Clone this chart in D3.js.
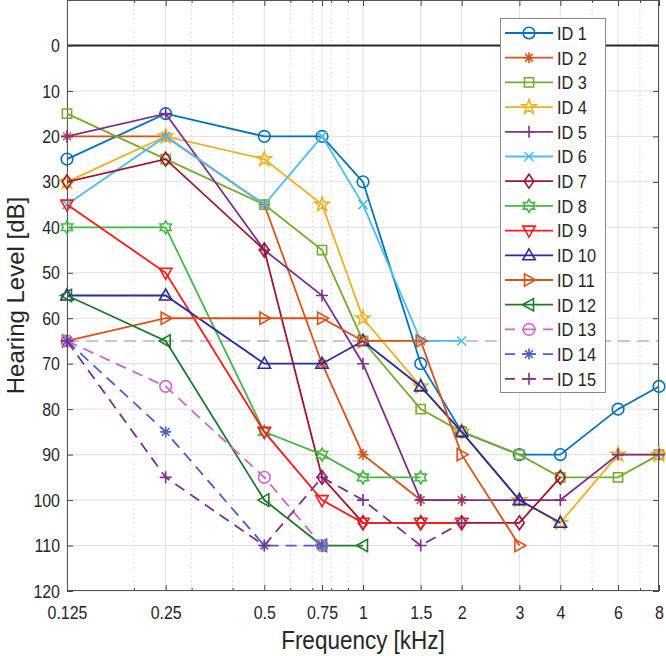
<!DOCTYPE html>
<html><head><meta charset="utf-8">
<script src="https://cdn.jsdelivr.net/npm/d3@7"></script>
<style>body{margin:0;background:#fff}svg{display:block}text{font-family:"Liberation Sans",Arial,Helvetica,sans-serif;fill:#262626}</style>
</head><body>
<svg id="c" width="666" height="656"></svg>
<script>
// ---- data ----
const freqs = [0.125, 0.25, 0.5, 0.75, 1, 1.5, 2, 3, 4, 6, 8];
const freqLabels = ["0.125", "0.25", "0.5", "0.75", "1", "1.5", "2", "3", "4", "6", "8"];
const minorFreqs = [0.2, 0.3, 0.4, 0.6, 0.7, 0.8, 0.9, 5, 7];
const yTicks = [0, 10, 20, 30, 40, 50, 60, 70, 80, 90, 100, 110, 120];
const seriesNames = ["ID 1","ID 2","ID 3","ID 4","ID 5","ID 6","ID 7","ID 8","ID 9","ID 10","ID 11","ID 12","ID 13","ID 14","ID 15"];
const id1  = [25, 15, 20, 20, 30, 70, 85, 90, 90, 80, 75];
const id2  = [20, 20, 35, 70, 90, 100, 100, null, null, null, null];
const id3  = [15, 25, 35, 45, 65, 80, 85, 90, 95, 95, 90];
const id4  = [30, 20, 25, 35, 60, 75, 85, 100, 105, 90, 90];
const id5  = [20, 15, 45, 55, 70, 100, 100, 100, 100, 90, 90];
const id6  = [35, 20, 35, 20, 35, 65, 65, null, null, null, null];
const id7  = [30, 25, 45, 95, 105, 105, 105, 105, 95, null, null];
const id8  = [40, 40, 85, 90, 95, 95, null, null, null, null, null];
const id9  = [35, 50, 85, 100, 105, 105, 105, null, null, null, null];
const id10 = [55, 55, 70, 70, 65, 75, 85, 100, 105, null, null];
const id11 = [65, 60, 60, 60, 65, 65, 90, 110, null, null, null];
const id12 = [55, 65, 100, 110, 110, null, null, null, null, null, null];
const id13 = [65, 75, 95, 110, null, null, null, null, null, null, null];
const id14 = [65, 85, 110, 110, null, null, null, null, null, null, null];
const id15 = [65, 95, 110, 95, 100, 110, 105, null, null, null, null];
const referenceLevel = 65;
const zeroLevel = 0;

// ---- styles ----
const seriesValues = [id1,id2,id3,id4,id5,id6,id7,id8,id9,id10,id11,id12,id13,id14,id15];
const colors = ["#0072BD","#D95319","#77AC30","#EDB120","#7E2F8E","#4DBEEE","#A2142F","#46B846","#FF1A1A","#2A2C9C","#D95319","#1E7A2C","#CC66C8","#4B60C4","#7E2F8E"];
const markers = ["o","*","s","p","+","x","d","h","v","^",">","<","o","*","+"];
const dashed = [false,false,false,false,false,false,false,false,false,false,false,false,true,true,true];

function star(n, ro, ri) {
  let p = [];
  for (let i = 0; i < 2 * n; i++) {
    const r = i % 2 === 0 ? ro : ri;
    const a = -Math.PI / 2 + i * Math.PI / n;
    p.push((r * Math.cos(a)).toFixed(2) + "," + (r * Math.sin(a)).toFixed(2));
  }
  return "M" + p.join("L") + "Z";
}
function markerPath(t) {
  switch (t) {
    case "o": return "M5.8,0A5.8,5.8 0 1,1 -5.8,0A5.8,5.8 0 1,1 5.8,0Z";
    case "s": return "M-4.6,-4.6H4.6V4.6H-4.6Z";
    case "d": return "M0,-7L4.8,0L0,7L-4.8,0Z";
    case "^": return "M0,-6.5L6.2,4.5L-6.2,4.5Z";
    case "v": return "M0,6.5L6.2,-4.5L-6.2,-4.5Z";
    case ">": return "M6.5,0L-4.5,-6.2L-4.5,6.2Z";
    case "<": return "M-6.5,0L4.5,-6.2L4.5,6.2Z";
    case "p": return star(5, 7.5, 3.0);
    case "h": return star(6, 6.5, 3.75);
    case "*": return "M-5.5,0H5.5M0,-5.5V5.5M-3.9,-3.9L3.9,3.9M-3.9,3.9L3.9,-3.9";
    case "+": return "M-6,0H6M0,-6V6";
    case "x": return "M-4.5,-4.5L4.5,4.5M-4.5,4.5L4.5,-4.5";
  }
}

const svg = d3.select("#c");
const X0 = 67, X1 = 659, Y0 = 0, Y1 = 591;
const x = d3.scaleLog().domain([0.125, 8]).range([X0, X1]);
const y = d3.scaleLinear().domain([-10, 120]).range([Y0, Y1]);

// grid
const grid = svg.append("g");
grid.selectAll(".mg").data(minorFreqs).join("line")
  .attr("x1", d => x(d)).attr("x2", d => x(d)).attr("y1", Y0).attr("y2", Y1)
  .attr("stroke", "#cfcfcf").attr("stroke-width", 1).attr("stroke-dasharray", "1.5,3");
grid.selectAll(".vg").data(freqs).join("line")
  .attr("x1", d => x(d)).attr("x2", d => x(d)).attr("y1", Y0).attr("y2", Y1)
  .attr("stroke", "#e1e1e1").attr("stroke-width", 1);
grid.selectAll(".hg").data(yTicks).join("line")
  .attr("x1", X0).attr("x2", X1).attr("y1", d => y(d)).attr("y2", d => y(d))
  .attr("stroke", "#e1e1e1").attr("stroke-width", 1);

// reference lines
svg.append("line").attr("x1", X0).attr("x2", X1).attr("y1", y(referenceLevel)).attr("y2", y(referenceLevel))
  .attr("stroke", "#b5b5b5").attr("stroke-width", 1.5).attr("stroke-dasharray", "12,7");
svg.append("line").attr("x1", X0).attr("x2", X1).attr("y1", y(zeroLevel)).attr("y2", y(zeroLevel))
  .attr("stroke", "#262626").attr("stroke-width", 2);

// axes
const tickFont = 19, tickSX = 0.84;
const xAxis = svg.append("g").attr("transform", `translate(0,${Y1})`)
  .call(d3.axisBottom(x).tickValues(freqs).tickFormat((d, i) => freqLabels[i]).tickSizeInner(-6).tickSizeOuter(0).tickPadding(15));
xAxis.selectAll("text").attr("font-size", tickFont).attr("transform", `scale(${tickSX},1)`);
svg.append("g").attr("transform", `translate(0,${Y1})`)
  .call(d3.axisBottom(x).tickValues(minorFreqs).tickFormat("").tickSizeInner(-3).tickSizeOuter(0));
svg.append("g").attr("transform", `translate(0,${Y0})`)
  .call(d3.axisTop(x).tickValues(freqs).tickFormat("").tickSizeInner(-6).tickSizeOuter(0));
svg.append("g").attr("transform", `translate(0,${Y0})`)
  .call(d3.axisTop(x).tickValues(minorFreqs).tickFormat("").tickSizeInner(-3).tickSizeOuter(0));
const yAxis = svg.append("g").attr("transform", `translate(${X0},0)`)
  .call(d3.axisLeft(y).tickValues(yTicks).tickSizeInner(-6).tickSizeOuter(0).tickPadding(7));
yAxis.selectAll("text").attr("font-size", tickFont).attr("x", -7 / tickSX).attr("transform", `scale(${tickSX},1)`);
svg.append("g").attr("transform", `translate(${X1},0)`)
  .call(d3.axisRight(y).tickValues(yTicks).tickFormat("").tickSizeInner(-6).tickSizeOuter(0));
svg.selectAll(".domain").remove();
svg.selectAll(".tick line").attr("stroke", "#444");
svg.selectAll(".tick text").attr("fill", "#262626").attr("font-family", '"Liberation Sans",Arial,sans-serif');

// border
svg.append("rect").attr("x", X0 + 0.5).attr("y", Y0 + 0.5).attr("width", X1 - X0 - 1).attr("height", Y1 - Y0 - 1)
  .attr("fill", "none").attr("stroke", "#555").attr("stroke-width", 1);

// axis labels
svg.append("text").attr("transform", `translate(${(X0 + X1) / 2},649) scale(0.9,1)`).attr("text-anchor", "middle")
  .attr("font-size", 25).text("Frequency [kHz]");
svg.append("text").attr("transform", `translate(24,${(Y0 + Y1) / 2}) rotate(-90)`).attr("text-anchor", "middle")
  .attr("font-size", 24).text("Hearing Level [dB]");

// series
const line = d3.line().defined(d => d.v !== null).x(d => x(d.f)).y(d => y(d.v));
seriesValues.forEach((vals, i) => {
  const pts = freqs.map((f, j) => ({ f, v: vals[j] }));
  const g = svg.append("g");
  g.append("path").attr("d", line(pts)).attr("fill", "none").attr("stroke", colors[i])
    .attr("stroke-width", 1.8).attr("stroke-dasharray", dashed[i] ? "11,7" : null);
  g.selectAll("path.m").data(pts.filter(d => d.v !== null)).join("path").attr("class", "m")
    .attr("transform", d => `translate(${x(d.f)},${y(d.v)})`)
    .attr("d", markerPath(markers[i])).attr("fill", "none").attr("stroke", colors[i]).attr("stroke-width", 1.6);
});

// legend
const lg = svg.append("g");
const LX = 500, LY = 18, LW = 105, LH = 374, rowH = 24.7, row0 = 33;
lg.append("rect").attr("x", LX + 0.5).attr("y", LY + 0.5).attr("width", LW).attr("height", LH)
  .attr("fill", "#fff").attr("stroke", "#8a8a8a").attr("stroke-width", 1);
seriesNames.forEach((name, i) => {
  const cy = row0 + i * rowH;
  lg.append("line").attr("x1", 505).attr("x2", 553).attr("y1", cy).attr("y2", cy)
    .attr("stroke", colors[i]).attr("stroke-width", 1.8).attr("stroke-dasharray", dashed[i] ? "10,7,14,7,10" : null);
  lg.append("path").attr("transform", `translate(529,${cy})`).attr("d", markerPath(markers[i]))
    .attr("fill", "none").attr("stroke", colors[i]).attr("stroke-width", 1.6);
  lg.append("text").attr("transform", `translate(557,${cy + 6.8}) scale(0.86,1)`).attr("font-size", 19).text(name);
});
</script>
</body></html>
